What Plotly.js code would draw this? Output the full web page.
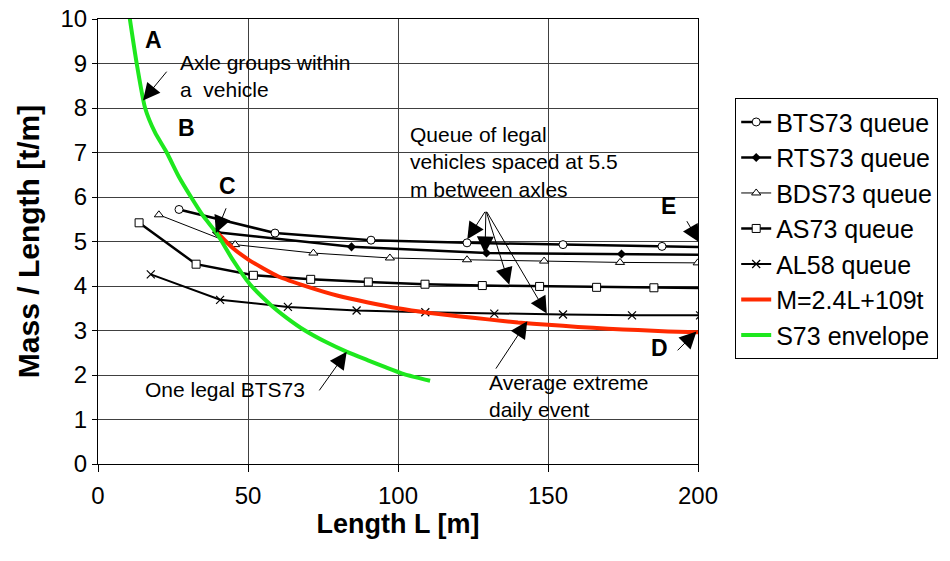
<!DOCTYPE html>
<html>
<head>
<meta charset="utf-8">
<script src="https://cdn.plot.ly/plotly-3.0.1.min.js"></script>
<style>html,body{margin:0;padding:0;background:#fff;}#chart{width:950px;height:561px;}</style>
</head>
<body>
<div id="chart"></div>
<script>
// ---- data ----
const btsX = [27, 59, 91, 123, 155, 188, 220];
const btsY = [5.72, 5.19, 5.03, 4.97, 4.93, 4.89, 4.85];

const rtsX = [39.5, 84.5, 129.5, 174.5, 219.5];
const rtsY = [5.21, 4.88, 4.74, 4.72, 4.69];

const bdsX = [20.3, 45.7, 71.8, 97.3, 123, 148.7, 174, 199.9];
const bdsY = [5.60, 4.93, 4.74, 4.63, 4.59, 4.56, 4.53, 4.52];

const asX = [13.7, 32.7, 51.8, 70.9, 90.1, 109, 128.1, 147.2, 166.2, 185.3, 204.4];
const asY = [5.42, 4.49, 4.24, 4.15, 4.09, 4.04, 4.01, 3.99, 3.97, 3.96, 3.95];

const alX = [17.6, 40.7, 63.3, 86.2, 109.1, 132.1, 155, 178, 200.7];
const alY = [4.26, 3.69, 3.53, 3.45, 3.41, 3.38, 3.36, 3.34, 3.34];

const mX = [40, 45, 50, 55, 60, 70, 80, 90, 100, 110, 120, 130, 140, 150, 160, 170, 180, 190, 200];
const mY = [5.18, 4.85, 4.60, 4.40, 4.22, 3.98, 3.78, 3.63, 3.50, 3.40, 3.32, 3.25, 3.18, 3.13, 3.08, 3.04, 3.01, 2.98, 2.96];

const sX = [10.4, 12.9, 15.7, 19, 22.9, 27, 31, 35, 39.6, 45, 50.5, 57.5, 63, 69, 76, 83, 90, 96, 102, 110.7];
const sY = [10.1, 9.0, 8.0, 7.45, 7.0, 6.45, 6.0, 5.58, 5.18, 4.58, 4.05, 3.58, 3.28, 3.0, 2.74, 2.52, 2.33, 2.17, 2.02, 1.87];

const seriesNames = ['BTS73 queue', 'RTS73 queue', 'BDS73 queue', 'AS73 queue', 'AL58 queue', 'M=2.4L+109t', 'S73 envelope'];

const xTicks = [0, 50, 100, 150, 200];
const yTicks = [0, 1, 2, 3, 4, 5, 6, 7, 8, 9, 10];

// ---- styling ----
const FONT = 'Liberation Sans, Arial, sans-serif';
const black = '#000000';

const traces = [
  {x: btsX, y: btsY, name: seriesNames[0], mode: 'lines+markers',
   line: {color: black, width: 2.5},
   marker: {symbol: 'circle', size: 8, color: '#ffffff', line: {color: black, width: 1}}},
  {x: rtsX, y: rtsY, name: seriesNames[1], mode: 'lines+markers',
   line: {color: black, width: 2.5},
   marker: {symbol: 'diamond', size: 7, color: black}},
  {x: bdsX, y: bdsY, name: seriesNames[2], mode: 'lines+markers',
   line: {color: black, width: 1},
   marker: {symbol: 'triangle-up', size: 8, color: '#ffffff', line: {color: black, width: 1}}},
  {x: asX, y: asY, name: seriesNames[3], mode: 'lines+markers',
   line: {color: black, width: 2.5},
   marker: {symbol: 'square', size: 8, color: '#ffffff', line: {color: black, width: 1}}},
  {x: alX, y: alY, name: seriesNames[4], mode: 'lines+markers',
   line: {color: black, width: 2},
   marker: {symbol: 'x-thin', size: 8, color: black, line: {color: black, width: 1.2}}},
  {x: mX, y: mY, name: seriesNames[5], mode: 'lines',
   line: {color: '#ff2a00', width: 4, shape: 'spline', smoothing: 0.6}},
  {x: sX, y: sY, name: seriesNames[6], mode: 'lines',
   line: {color: '#1ee81e', width: 4, shape: 'spline', smoothing: 0.6}}
];

function arrow(x, y, ax, ay) {
  return {x: x, y: y, ax: ax, ay: ay, xref: 'x', yref: 'y', axref: 'x', ayref: 'y',
          text: '', showarrow: true, arrowhead: 2, arrowsize: 3.4, arrowwidth: 1,
          arrowcolor: black, standoff: 0};
}
function label(x, y, text, size, bold, anchor) {
  return {x: x, y: y, xref: 'x', yref: 'y', text: text, showarrow: false,
          xanchor: anchor || 'left', yanchor: 'middle', align: 'left',
          font: {family: FONT, size: size, color: black, weight: bold ? 'bold' : 'normal'}};
}

const annotations = [
  label(18.6, 9.52, 'A', 23, true, 'center'),
  label(29.6, 7.54, 'B', 23, true, 'center'),
  label(43.3, 6.24, 'C', 23, true, 'center'),
  label(190.3, 5.79, 'E', 23, true, 'center'),
  label(187.3, 2.60, 'D', 23, true, 'center'),
  label(26.7, 8.73, 'Axle groups within<br>a\u00a0 vehicle', 21, false),
  label(103.4, 6.79, 'Queue of legal<br>vehicles spaced at 5.5<br>m between axles', 21, false),
  label(129.6, 1.52, 'Average extreme<br>daily event', 21, false),
  label(15.1, 1.68, 'One legal BTS73', 21, false),
  arrow(15.0, 8.17, 23.3, 8.85),
  arrow(39.3, 5.19, 42.9, 5.78),
  arrow(123.1, 5.05, 129.3, 5.70),
  arrow(129.0, 4.73, 129.3, 5.70),
  arrow(137.1, 4.03, 129.3, 5.70),
  arrow(149.6, 3.38, 129.3, 5.70),
  arrow(200.3, 4.99, 196.0, 5.49),
  arrow(199.5, 2.98, 192.7, 2.52),
  arrow(143.1, 3.21, 132.3, 2.11),
  arrow(82.9, 2.52, 73.4, 1.62)
];

const layout = {
  width: 950, height: 561,
  margin: {l: 98, r: 252, t: 19, b: 97, pad: 0},
  paper_bgcolor: '#ffffff', plot_bgcolor: '#ffffff',
  font: {family: FONT, color: black},
  showlegend: true,
  legend: {x: 1.062, y: 0.822, xanchor: 'left', yanchor: 'top',
           bordercolor: black, borderwidth: 1, bgcolor: '#ffffff',
           font: {family: FONT, size: 25, color: black}},
  xaxis: {range: [0, 200], tickvals: xTicks, ticktext: xTicks.map(String),
          ticks: 'outside', ticklen: 7, tickcolor: black, tickwidth: 1,
          ticklabelstandoff: 3,
          showline: true, linecolor: black, linewidth: 1, mirror: true,
          showgrid: true, gridcolor: '#404040', gridwidth: 1, zeroline: false,
          tickfont: {family: FONT, size: 24, color: black},
          title: {text: 'Length L [m]', font: {family: FONT, size: 27, color: black, weight: 'bold'}, standoff: 5}},
  yaxis: {range: [0, 10], tickvals: yTicks, ticktext: yTicks.map(String),
          ticks: 'outside', ticklen: 5, tickcolor: black, tickwidth: 1,
          showline: true, linecolor: black, linewidth: 1, mirror: true,
          showgrid: true, gridcolor: '#404040', gridwidth: 1, zeroline: false,
          tickfont: {family: FONT, size: 24, color: black},
          title: {text: 'Mass / Length [t/m]', font: {family: FONT, size: 30, color: black, weight: 'bold'}, standoff: 11}},
  annotations: annotations
};

Plotly.newPlot('chart', traces, layout, {displayModeBar: false, staticPlot: true});
</script>
</body>
</html>
